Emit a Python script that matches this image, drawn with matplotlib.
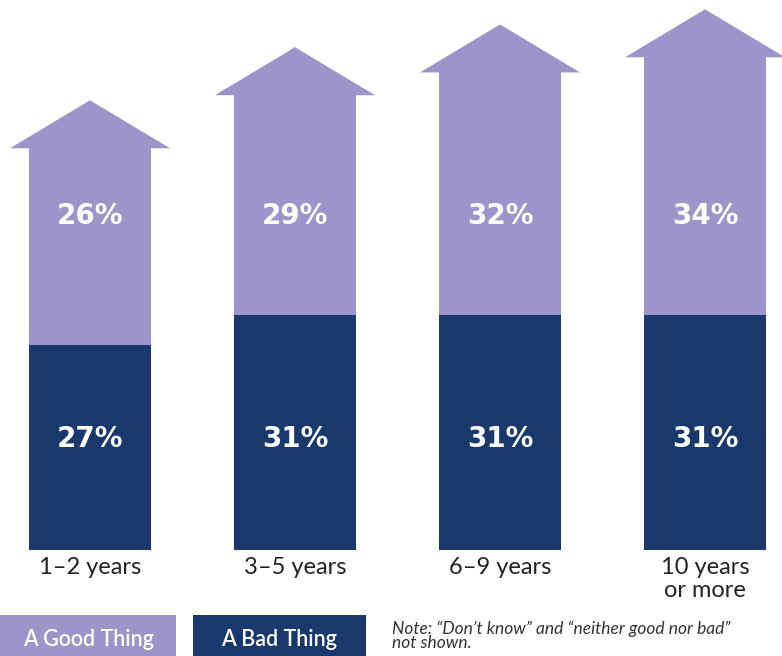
import matplotlib.pyplot as plt
from matplotlib.patches import Polygon, Rectangle

# Data
categories = ['1\u20132 years', '3\u20135 years', '6\u20139 years', '10 years\nor more']
bad_thing  = [27, 31, 31, 31]
good_thing = [26, 29, 32, 34]

light = '#9b95c9'
dark  = '#19386b'

fig = plt.figure(figsize=(7.82, 6.56), dpi=100)
ax = fig.add_axes([0, 106 / 656, 1, 550 / 656])
ax.set_xlim(-90 / 205, (782 - 90) / 205)
ax.set_ylim(0, 550 / 7.58)
ax.axis('off')

shaft_w = 122 / 205
head_w  = 160 / 205
head_h  = 48 / 7.58

for i, (b, g) in enumerate(zip(bad_thing, good_thing)):
    top = b + g
    # light arrow (shaft + head)
    pts = [(i - shaft_w / 2, b), (i - shaft_w / 2, top), (i - head_w / 2, top),
           (i, top + head_h), (i + head_w / 2, top), (i + shaft_w / 2, top),
           (i + shaft_w / 2, b)]
    ax.add_patch(Polygon(pts, closed=True, facecolor=light, edgecolor='none'))
    ax.bar(i, b, width=shaft_w, color=dark)
    ax.text(i, 44.0, f'{g}%', ha='center', va='center', color='white',
            fontsize=20, fontweight='bold')
    ax.text(i, 14.7, f'{b}%', ha='center', va='center', color='white',
            fontsize=20, fontweight='bold')
    ax.text(i, -0.9, categories[i], ha='center', va='top', color='#222222',
            fontsize=17, family='Lato', linespacing=1.1)

# Legend boxes
fig.patches.append(Rectangle((0, 0), 176 / 782, 41 / 656, transform=fig.transFigure,
                             facecolor=light, edgecolor='none'))
fig.patches.append(Rectangle((193 / 782, 0), 173 / 782, 41 / 656, transform=fig.transFigure,
                             facecolor=dark, edgecolor='none'))
fig.text(88 / 782, 17 / 656, 'A Good Thing', ha='center', va='center', color='white',
         fontsize=15.5, family='Lato', fontweight='semibold')
fig.text(279 / 782, 17 / 656, 'A Bad Thing', ha='center', va='center', color='white',
         fontsize=15.5, family='Lato', fontweight='semibold')
fig.text(392 / 782, 20 / 656,
         'Note: \u201cDon\u2019t know\u201d and \u201cneither good nor bad\u201d\nnot shown.',
         ha='left', va='center', color='#333333', fontsize=12.5, style='italic',
         family='Lato', linespacing=0.85)

plt.savefig('out.png', dpi=100)
